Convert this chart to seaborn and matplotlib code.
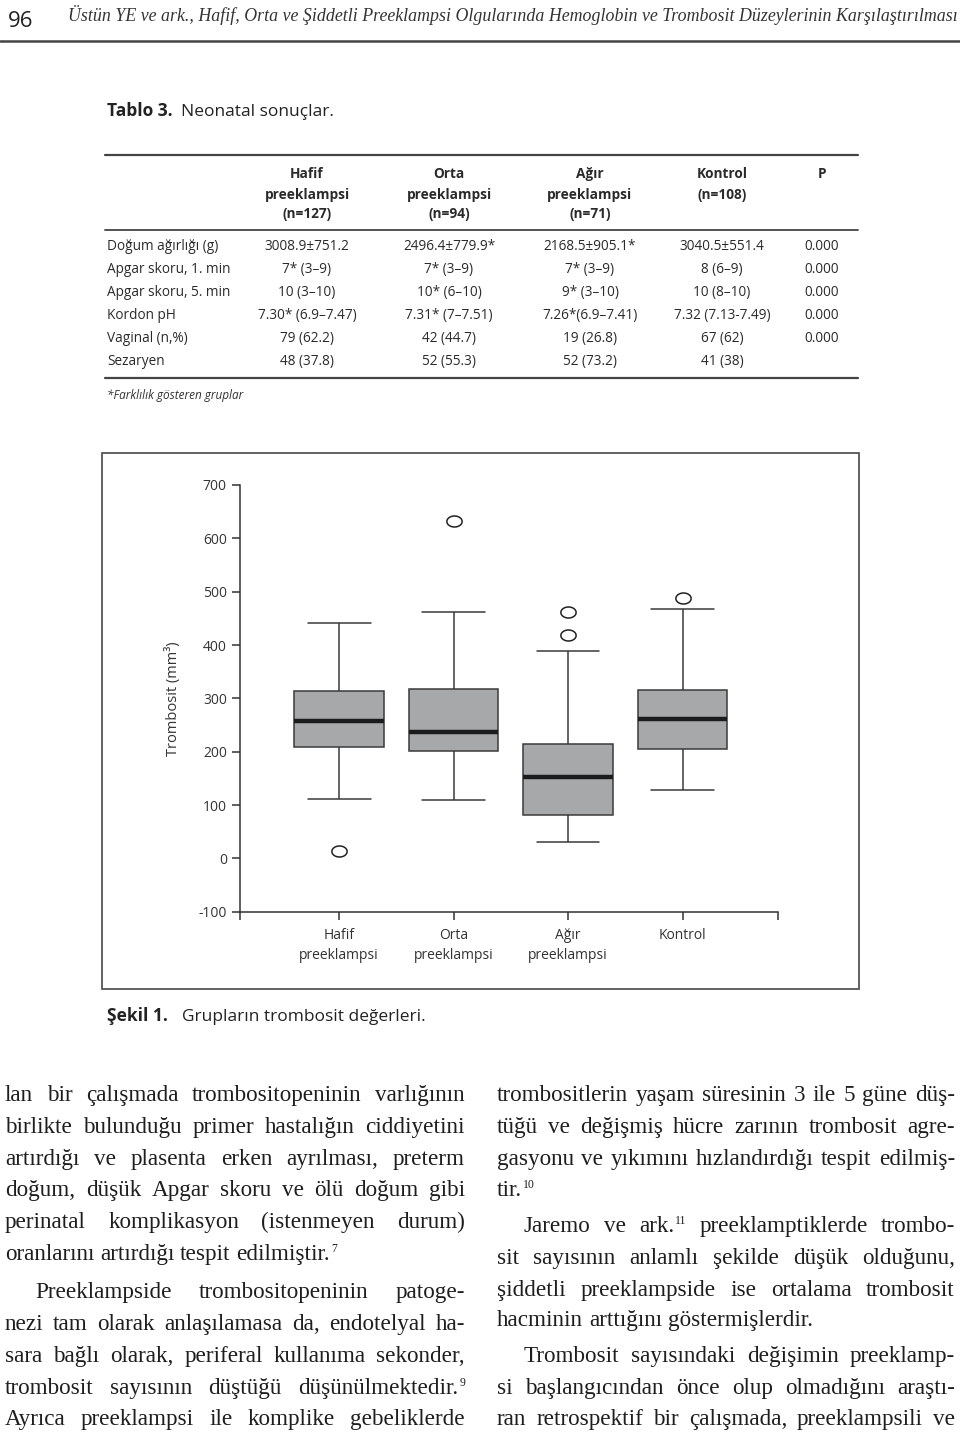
import matplotlib
matplotlib.use("Agg")
import matplotlib.pyplot as plt
from matplotlib.patches import Rectangle
from matplotlib.path import Path
import numpy as np
import pandas as pd
import seaborn as sns

# Sekil 1 - box plot summary values
groups = ["Hafif\npreeklampsi", "Orta\npreeklampsi", "Ağır\npreeklampsi", "Kontrol"]
whisker_low = [112, 109, 30, 129]
q1 = [209, 201, 82, 206]
median = [257, 237, 152, 261]
q3 = [314, 318, 215, 316]
whisker_high = [442, 461, 389, 468]
outlier_group = ["Hafif\npreeklampsi", "Orta\npreeklampsi", "Ağır\npreeklampsi",
                 "Ağır\npreeklampsi", "Kontrol"]
outlier_value = [13, 633, 419, 461, 488]
y_ticks = [-100, 0, 100, 200, 300, 400, 500, 600, 700]

# Tablo 3
col_heads = [["Hafif", "preeklampsi", "(n=127)"], ["Orta", "preeklampsi", "(n=94)"],
             ["Ağır", "preeklampsi", "(n=71)"], ["Kontrol", "(n=108)"], ["P"]]
row_labels = ["Doğum ağırlığı (g)", "Apgar skoru, 1. min", "Apgar skoru, 5. min",
              "Kordon pH", "Vaginal (n,%)", "Sezaryen"]
hafif_vals = ["3008.9±751.2", "7* (3–9)", "10 (3–10)", "7.30* (6.9–7.47)", "79 (62.2)", "48 (37.8)"]
orta_vals = ["2496.4±779.9*", "7* (3–9)", "10* (6–10)", "7.31* (7–7.51)", "42 (44.7)", "52 (55.3)"]
agir_vals = ["2168.5±905.1*", "7* (3–9)", "9* (3–10)", "7.26*(6.9–7.41)", "19 (26.8)", "52 (73.2)"]
kontrol_vals = ["3040.5±551.4", "8 (6–9)", "10 (8–10)", "7.32 (7.13-7.49)", "67 (62)", "41 (38)"]
p_vals = ["0.000", "0.000", "0.000", "0.000", "0.000", ""]

header = ("Üstün YE ve ark., Hafif, Orta ve Şiddetli Preeklampsi Olgularında "
          "Hemoglobin ve Trombosit Düzeylerinin Karşılaştırılması")

left_col = [
    ("lan bir çalışmada trombositopeninin varlığının", True, False),
    ("birlikte bulunduğu primer hastalığın ciddiyetini", True, False),
    ("artırdığı ve plasenta erken ayrılması, preterm", True, False),
    ("doğum, düşük Apgar skoru ve ölü doğum gibi", True, False),
    ("perinatal komplikasyon (istenmeyen durum)", True, False),
    ("oranlarını artırdığı tespit edilmiştir.^7", False, False),
    ("Preeklampside trombositopeninin patoge-", True, True),
    ("nezi tam olarak anlaşılamasa da, endotelyal ha-", True, False),
    ("sara bağlı olarak, periferal kullanıma sekonder,", True, False),
    ("trombosit sayısının düştüğü düşünülmektedir.^9", True, False),
    ("Ayrıca preeklampsi ile komplike gebeliklerde", True, False),
]
left_y = [1095, 1127, 1159, 1190, 1222, 1254, 1292, 1324, 1356, 1388, 1419]
right_col = [
    ("trombositlerin yaşam süresinin 3 ile 5 güne düş-", True, False),
    ("tüğü ve değişmiş hücre zarının trombosit agre-", True, False),
    ("gasyonu ve yıkımını hızlandırdığı tespit edilmiş-", True, False),
    ("tir.^10", False, False),
    ("Jaremo ve ark.^11 preeklamptiklerde trombo-", True, True),
    ("sit sayısının anlamlı şekilde düşük olduğunu,", True, False),
    ("şiddetli preeklampside ise ortalama trombosit", True, False),
    ("hacminin arttığını göstermişlerdir.", False, False),
    ("Trombosit sayısındaki değişimin preeklamp-", True, True),
    ("si başlangıcından önce olup olmadığını araştı-", True, False),
    ("ran retrospektif bir çalışmada, preeklampsili ve", True, False),
]
right_y = [1095, 1127, 1159, 1190, 1226, 1258, 1290, 1320, 1356, 1388, 1419]

sns.set_style("ticks")
plt.rcParams["font.family"] = ["Open Sans", "DejaVu Sans"]

fig = plt.figure(figsize=(9.6, 14.34), dpi=100)
page = fig.add_axes([0, 0, 1, 1])
page.set_xlim(0, 960)
page.set_ylim(1434, 0)
page.axis("off")
renderer = fig.canvas.get_renderer()

SERIF = ["Liberation Serif", "DejaVu Serif"]
INK = "#1e1e1e"


def width_of(s, **kw):
    t = page.text(0, 0, s, **kw)
    w = t.get_window_extent(renderer).width
    t.remove()
    return w


# running header
page.text(8, 27, "96", fontsize=16, color="#222")
hw = width_of(header, family=SERIF, style="italic", fontsize=13)
page.text(68, 21, header, family=SERIF, style="italic", color="#333",
          fontsize=13 * 886 / hw)
page.plot([0, 960], [41, 41], color="#444", lw=1.8)

# table
page.text(107, 116, "Tablo 3.", fontsize=12.5, weight="bold", color="#222")
page.text(181, 116, "Neonatal sonuçlar.", fontsize=12.5, color="#222")
col_x = [307, 449, 590, 722, 822]
for x, lines in zip(col_x, col_heads):
    for yy, s in zip([178, 199, 218], lines):
        page.text(x, yy, s, ha="center", fontsize=9.8, weight="bold", color="#2a2a2a")
for yy, lw in [(155, 1.6), (230, 1.3), (378, 1.6)]:
    page.plot([105, 858], [yy, yy], color="#444", lw=lw)
row_y = [245, 268, 291, 314, 337, 360]
for i, yy in enumerate(row_y):
    page.text(107, yy + 5, row_labels[i], fontsize=9.8, color="#2a2a2a")
    for x, vals in zip(col_x, [hafif_vals, orta_vals, agir_vals, kontrol_vals, p_vals]):
        page.text(x, yy + 5, vals[i], ha="center", fontsize=9.8, color="#2a2a2a")
page.text(107, 399, "*Farklılık gösteren gruplar", fontsize=8.5, style="italic", color="#333")

# figure frame and caption
page.add_patch(Rectangle((101.5, 452.5), 757, 536, fill=False, edgecolor="#555", lw=1.3))
page.text(107, 1021, "Şekil 1.", fontsize=12.5, weight="bold", color="#222")
page.text(182, 1021, "Grupların trombosit değerleri.", fontsize=12.5, color="#222")

# body text, justified like the page
SUP = 8.5


def natural_width(line, size):
    words = [w.partition("^")[0] for w in line.split()]
    return width_of(" ".join(words), family=SERIF, fontsize=size)


ratios = []
for lines, x0s, x1 in [(left_col, (5, 35), 465), (right_col, (497, 524), 955)]:
    for line, just, indent in lines:
        if just:
            avail = x1 - (x0s[1] if indent else x0s[0])
            ratios.append(avail / natural_width(line, 15))
BODY = min(18, 15 * min(ratios) * 0.99)
space_w = width_of("a a", family=SERIF, fontsize=BODY) - width_of("aa", family=SERIF, fontsize=BODY)


def draw_line(x0, x1, y, line, justify):
    parts = [w.partition("^")[::2] for w in line.split()]
    widths = []
    for m, s in parts:
        w = width_of(m, family=SERIF, fontsize=BODY)
        if s:
            w += width_of(s, family=SERIF, fontsize=SUP) + 1
        widths.append(w)
    gap = space_w
    if justify and len(parts) > 1:
        gap = (x1 - x0 - sum(widths)) / (len(parts) - 1)
    x = x0
    for (m, s), w in zip(parts, widths):
        page.text(x, y, m, family=SERIF, fontsize=BODY, color=INK)
        if s:
            mw = width_of(m, family=SERIF, fontsize=BODY)
            page.text(x + mw + 1, y - 8, s, family=SERIF, fontsize=SUP, color=INK)
        x += w + gap


for (line, just, indent), yy in zip(left_col, left_y):
    draw_line(35 if indent else 5, 465, yy + 6, line, just)
for (line, just, indent), yy in zip(right_col, right_y):
    draw_line(524 if indent else 497, 955, yy + 6, line, just)

# the box plot
box_df = pd.DataFrame({
    "group": np.repeat(groups, 5),
    "value": np.column_stack([whisker_low, q1, median, q3, whisker_high]).ravel(),
})
out_df = pd.DataFrame({"group": outlier_group, "value": outlier_value})

ax = fig.add_axes([0.25, 0.3642, 0.5604, 0.2976])
ax.set_facecolor("none")
sns.boxplot(data=box_df, x="group", y="value", order=groups, whis=(0, 100),
            width=0.78, color="#a7a8aa", saturation=1, linecolor="#3a3a3a",
            linewidth=1.1, fliersize=0, capwidths=0.55,
            medianprops={"color": "#1c1c1c", "linewidth": 3.2}, ax=ax)

theta = np.linspace(0, 2 * np.pi, 64)
ellipse = Path(np.column_stack([np.cos(theta), 0.72 * np.sin(theta)]))
sns.stripplot(data=out_df, x="group", y="value", order=groups, jitter=False,
              marker=ellipse, size=11, color="white", edgecolor="#222",
              linewidth=1.1, ax=ax, zorder=4)

x_lo, x_hi = -0.865, 3.834
ax.set_xlim(x_lo, x_hi)
ax.set_ylim(-100, 700)
ax.set_xticks([x_lo, 0, 1, 2, 3, x_hi])
ax.set_xticklabels([""] + groups + [""], linespacing=1.45)
ax.set_yticks(y_ticks)
ax.set_yticklabels([str(v) for v in y_ticks])
sns.despine(ax=ax)
for side in ["left", "bottom"]:
    ax.spines[side].set_color("#333")
    ax.spines[side].set_linewidth(1.1)
ax.tick_params(length=5.5, width=1.1, color="#333", labelsize=10, labelcolor="#333")
ax.tick_params(axis="x", pad=6)
ax.tick_params(axis="y", pad=4)
ax.set_xlabel("")
ax.set_ylabel("Trombosit (mm³)", fontsize=10.5, color="#333")
ax.yaxis.set_label_coords(-0.11, 0.5)

fig.savefig("out.png", dpi=100)
